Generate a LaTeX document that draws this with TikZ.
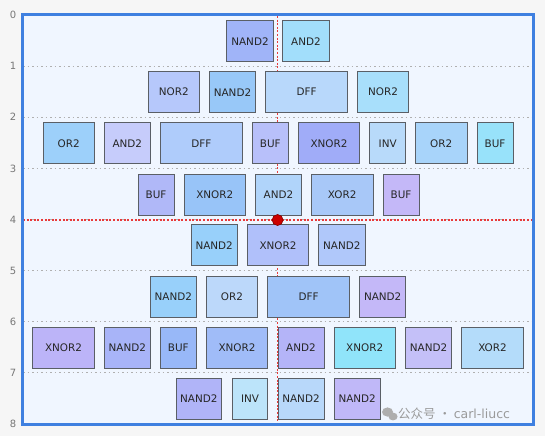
\documentclass[tikz,border=0pt]{standalone}
\usepackage{fontspec}
\setmainfont{DejaVu Sans}
\newfontfamily\cjk{Noto Sans CJK SC}
\definecolor{outbg}{HTML}{F6F6F6}
\definecolor{inbg}{HTML}{F0F6FF}
\definecolor{frameblue}{HTML}{3F80E0}
\definecolor{gridgray}{HTML}{B0B0B0}
\definecolor{redline}{HTML}{E83A3A}
\definecolor{gateborder}{HTML}{5A5F66}
\definecolor{axisgray}{HTML}{777777}
\definecolor{wmgray}{HTML}{9A9A9A}
\definecolor{cA}{HTML}{A0B4F8}
\definecolor{cB}{HTML}{A2DEFB}
\definecolor{cC}{HTML}{B6C8FB}
\definecolor{cD}{HTML}{98C8F8}
\definecolor{cE}{HTML}{B8D8FB}
\definecolor{cF}{HTML}{A8DFFB}
\definecolor{cG}{HTML}{9DD0FA}
\definecolor{cH}{HTML}{C6CCFB}
\definecolor{cI}{HTML}{AFCCFB}
\definecolor{cJ}{HTML}{B8C0FA}
\definecolor{cK}{HTML}{A0ACF8}
\definecolor{cL}{HTML}{B8DAFA}
\definecolor{cM}{HTML}{A8D4FA}
\definecolor{cN}{HTML}{98E2FA}
\definecolor{cO}{HTML}{B0B8F8}
\definecolor{cP}{HTML}{98C4F8}
\definecolor{cQ}{HTML}{B0D4FA}
\definecolor{cR}{HTML}{A8C8F8}
\definecolor{cS}{HTML}{C4B8F8}
\definecolor{cT}{HTML}{98D0FA}
\definecolor{cU}{HTML}{B0C0FA}
\definecolor{cV}{HTML}{B0C8FA}
\definecolor{cW}{HTML}{BCD8FA}
\definecolor{cX}{HTML}{A0C4F8}
\definecolor{cY}{HTML}{BCB4F8}
\definecolor{cZ}{HTML}{A8B4F8}
\definecolor{ca}{HTML}{98B8F8}
\definecolor{cb}{HTML}{A0BCF8}
\definecolor{cc}{HTML}{B4B4F8}
\definecolor{cd}{HTML}{90E4FA}
\definecolor{ce}{HTML}{C4C0F8}
\definecolor{cf}{HTML}{B4DCFA}
\definecolor{cg}{HTML}{B0B4F8}
\definecolor{ch}{HTML}{BCE4FA}
\definecolor{ci}{HTML}{B8D8FA}
\definecolor{cj}{HTML}{C0B8F8}
\begin{document}
\begin{tikzpicture}[x=1pt,y=-1pt,
  gate/.style={draw=gateborder, line width=0.9pt, minimum height=41pt, inner sep=0pt,
    font=\fontsize{10.4}{12}\selectfont, text=black!85},
  gridline/.style={gridgray, line width=1.1pt, dash pattern=on 1.5pt off 3pt},
  redl/.style={redline, line width=1.1pt, dash pattern=on 2pt off 1.6pt},
  axis/.style={text=axisgray, font=\fontsize{10}{12}\selectfont}]
\useasboundingbox (0,0) rectangle (545,436);
\fill[outbg] (0,0) rectangle (545,436);
\fill[inbg] (22,15) rectangle (533,424);
% grid lines
\foreach \k in {1,...,7} {
  \draw[gridline] (23,15+51.125*\k) -- (532,15+51.125*\k);
}
% axis labels
\foreach \k in {0,...,8} {
  \node[axis] (ax\k) at (13,15+51.125*\k) {\k};
}
% red cross lines
\coordinate (vtop) at (277.5,16);
\coordinate (vbot) at (277.5,423);
\coordinate (hl) at (23,220);
\coordinate (hr) at (532,220);
\draw[redl] (vtop) -- (vbot);
\draw[redl] (hl) -- (hr);
% row 0
\node[gate, fill=cA, minimum width=46.6pt] (g00) at (250,41.2) {NAND2};
\node[gate, fill=cB, minimum width=46.6pt] (g01) at (306,41.2) {AND2};
% row 1
\node[gate, fill=cC, minimum width=51pt] (g10) at (173.8,92.2) {NOR2};
\node[gate, fill=cD, minimum width=46.4pt] (g11) at (232.5,92.2) {NAND2};
\node[gate, fill=cE, minimum width=82pt] (g12) at (306.7,92.2) {DFF};
\node[gate, fill=cF, minimum width=51.4pt] (g13) at (383,92.2) {NOR2};
% row 2
\node[gate, fill=cG, minimum width=51.3pt] (g20) at (68.7,143.4) {OR2};
\node[gate, fill=cH, minimum width=46pt] (g21) at (127.3,143.4) {AND2};
\node[gate, fill=cI, minimum width=82pt] (g22) at (201.3,143.4) {DFF};
\node[gate, fill=cJ, minimum width=36pt] (g23) at (270.3,143.4) {BUF};
\node[gate, fill=cK, minimum width=61.4pt] (g24) at (329,143.4) {XNOR2};
\node[gate, fill=cL, minimum width=36pt] (g25) at (387.7,143.4) {INV};
\node[gate, fill=cM, minimum width=51.7pt] (g26) at (441.2,143.4) {OR2};
\node[gate, fill=cN, minimum width=36pt] (g27) at (495,143.4) {BUF};
% row 3
\node[gate, fill=cO, minimum width=36pt] (g30) at (156,194.5) {BUF};
\node[gate, fill=cP, minimum width=61.7pt] (g31) at (214.8,194.5) {XNOR2};
\node[gate, fill=cQ, minimum width=46.4pt] (g32) at (278.5,194.5) {AND2};
\node[gate, fill=cR, minimum width=61.7pt] (g33) at (342.2,194.5) {XOR2};
\node[gate, fill=cS, minimum width=36pt] (g34) at (401,194.5) {BUF};
% row 4
\node[gate, fill=cT, minimum width=46.3pt] (g40) at (214.2,245.4) {NAND2};
\node[gate, fill=cU, minimum width=61.4pt] (g41) at (278,245.4) {XNOR2};
\node[gate, fill=cV, minimum width=46.3pt] (g42) at (341.8,245.4) {NAND2};
% row 5
\node[gate, fill=cT, minimum width=46pt] (g50) at (173.3,296.5) {NAND2};
\node[gate, fill=cW, minimum width=51.4pt] (g51) at (232,296.5) {OR2};
\node[gate, fill=cX, minimum width=82pt] (g52) at (308.7,296.5) {DFF};
\node[gate, fill=cS, minimum width=46pt] (g53) at (382.7,296.5) {NAND2};
% row 6
\node[gate, fill=cY, minimum width=61.6pt] (g60) at (63.5,347.5) {XNOR2};
\node[gate, fill=cZ, minimum width=46pt] (g61) at (127.3,347.5) {NAND2};
\node[gate, fill=ca, minimum width=36pt] (g62) at (178.3,347.5) {BUF};
\node[gate, fill=cb, minimum width=61.4pt] (g63) at (237,347.5) {XNOR2};
\node[gate, fill=cc, minimum width=46pt] (g64) at (301,347.5) {AND2};
\node[gate, fill=cd, minimum width=61.3pt] (g65) at (364.7,347.5) {XNOR2};
\node[gate, fill=ce, minimum width=46.4pt] (g66) at (428.5,347.5) {NAND2};
\node[gate, fill=cf, minimum width=61.6pt] (g67) at (492.5,347.5) {XOR2};
% row 7
\node[gate, fill=cg, minimum width=45.7pt] (g70) at (198.8,398.8) {NAND2};
\node[gate, fill=ch, minimum width=35.4pt] (g71) at (250,398.8) {INV};
\node[gate, fill=ci, minimum width=46pt] (g72) at (301,398.8) {NAND2};
\node[gate, fill=cj, minimum width=46.3pt] (g73) at (357.2,398.8) {NAND2};
% red dot
\node[circle, fill=red!80!black, draw=red!50!black, line width=0.6pt, minimum size=11pt, inner sep=0pt] (dot) at (277.6,220) {};
% watermark
\fill[wmgray!80] (387.5,412) ellipse (5.5pt and 4.6pt);
\fill[wmgray!80] (393,416.5) ellipse (4.6pt and 3.9pt);
\node[anchor=west, text=wmgray, inner sep=0pt, font=\fontsize{12.5}{14}\selectfont] (wm) at (398,414) {{\cjk 公众号 · }carl-liucc};
% frame
\draw[frameblue, line width=3pt] (22,15) rectangle (533,424);
\end{tikzpicture}
\end{document}
